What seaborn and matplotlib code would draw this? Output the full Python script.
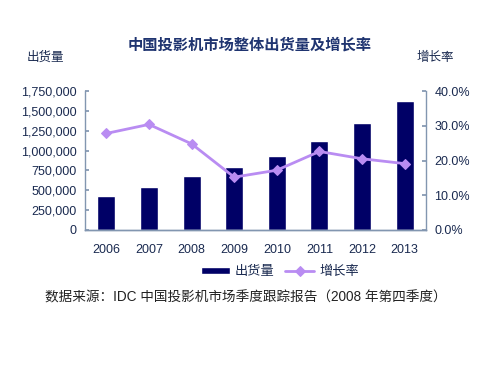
import matplotlib
matplotlib.use("Agg")
import matplotlib.pyplot as plt
import seaborn as sns
import pandas as pd
import numpy as np

years = ["2006", "2007", "2008", "2009", "2010", "2011", "2012", "2013"]
shipments = [427000, 544000, 678000, 787000, 926000, 1122000, 1353000, 1625000]
growth = [27.8, 30.4, 24.8, 15.2, 17.2, 22.6, 20.5, 19.1]

title = "中国投影机市场整体出货量及增长率"
left_label = "出货量"
right_label = "增长率"
source = "数据来源：IDC 中国投影机市场季度跟踪报告（2008 年第四季度）"

sns.set_theme(style="white")
plt.rcParams['font.family'] = ['Liberation Sans', 'Noto Sans CJK SC', 'DejaVu Sans']

df = pd.DataFrame({"year": years, "shipments": shipments, "growth": growth})

bar_color = "#000066"
line_color = "#B98CF2"
axis_color = "#8296B0"
text_color = "#1A2A50"

fig = plt.figure(figsize=(5, 3.75), dpi=100)
ax = fig.add_axes([0.17, 0.387, 0.682, 0.37])
sns.barplot(data=df, x="year", y="shipments", color=bar_color, width=0.42,
            saturation=1, ax=ax, label=left_label)
ax.set_ylim(0, 1750000)
ax.set_yticks(np.arange(0, 1750001, 250000))
ax.set_yticklabels([f"{v:,}" for v in range(0, 1750001, 250000)])
ax.set_xlabel("")
ax.set_ylabel("")
ax.set_xlim(-0.5, 7.5)

ax2 = ax.twinx()
sns.lineplot(x=np.arange(len(years)), y=df["growth"], color=line_color, marker="D",
             markersize=5, linewidth=2.0, markeredgecolor=line_color, ax=ax2,
             label=right_label, legend=False)
ax2.set_ylim(0, 40)
ax2.set_yticks([0, 10, 20, 30, 40])
ax2.set_yticklabels([f"{v:.1f}%" for v in [0, 10, 20, 30, 40]])
ax2.set_ylabel("")

for a in (ax, ax2):
    a.spines["top"].set_visible(False)
    for s in ("left", "right", "bottom"):
        a.spines[s].set_color(axis_color)
        a.spines[s].set_linewidth(1.0)
    a.tick_params(axis="y", colors=text_color, labelsize=9, length=3,
                  direction="in", color=axis_color, pad=6)
    a.grid(False)
ax.spines["right"].set_visible(False)
ax2.spines["left"].set_visible(False)
ax.tick_params(axis="x", colors=text_color, labelsize=9, length=0, pad=10)
ax.set_xticks(np.arange(-0.5, 7.6, 1), minor=True)
ax.tick_params(axis="x", which="minor", direction="in", length=3, color=axis_color)

h1, l1 = ax.get_legend_handles_labels()
h2, l2 = ax2.get_legend_handles_labels()
if ax.get_legend():
    ax.get_legend().remove()
fig.legend(h1 + h2, l1 + l2, loc="center", bbox_to_anchor=(0.56, 0.275), ncol=2,
           frameon=False, fontsize=9.5, handlelength=2.2, handleheight=0.5,
           handletextpad=0.4, columnspacing=0.8, labelcolor=text_color)

fig.text(0.5, 0.88, title, ha="center", va="center", fontsize=11,
         fontweight="bold", color="#1F3470")
fig.text(0.09, 0.845, left_label, ha="center", va="center", fontsize=9, color=text_color)
fig.text(0.87, 0.845, right_label, ha="center", va="center", fontsize=9, color=text_color)
fig.text(0.09, 0.207, source, ha="left", va="center", fontsize=9.8, color="#222222")

fig.savefig("out.png", dpi=100)
